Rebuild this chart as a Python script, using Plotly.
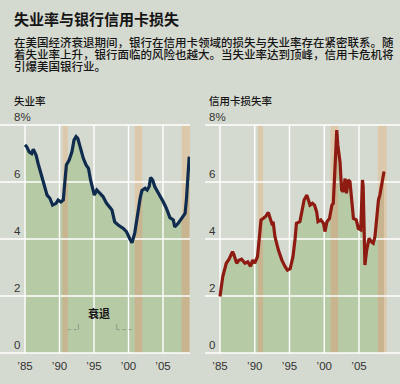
import numpy as np
import plotly.graph_objects as go

# ---------------- data ----------------
unemp_years = [1985.0, 1985.24, 1985.6, 1985.97, 1986.2, 1986.6, 1986.9, 1987.3, 1987.6, 1987.9,
               1988.2, 1988.6, 1989.0, 1989.5, 1989.8, 1990.2, 1990.55, 1990.8, 1991.0, 1991.4,
               1991.8, 1992.1, 1992.4, 1992.65, 1993.0, 1993.45, 1993.85, 1994.2, 1994.5, 1994.8,
               1995.05, 1995.4, 1995.8, 1996.3, 1996.8, 1997.6, 1998.0, 1998.5, 1999.25, 1999.7,
               2000.2, 2000.5, 2000.9, 2001.4, 2001.7, 2001.95, 2002.4, 2002.7, 2003.0, 2003.2,
               2003.5, 2003.8, 2004.1, 2004.6, 2005.05, 2005.5, 2006.0, 2006.5, 2006.7, 2007.2,
               2007.7, 2008.2, 2008.4, 2008.8]
unemp_rate = [7.3, 7.24, 7.06, 7.0, 7.15, 6.95, 6.65, 6.3, 6.0, 5.78,
              5.54, 5.43, 5.19, 5.25, 5.37, 5.3, 5.37, 6.07, 6.6, 6.77,
              7.06, 7.47, 7.59, 7.53, 7.18, 6.83, 6.6, 6.48, 6.07, 5.72,
              5.54, 5.72, 5.6, 5.49, 5.26, 5.02, 4.6, 4.49, 4.37, 4.26,
              4.0, 3.87, 4.2, 5.1, 5.45, 5.7, 5.78, 5.72, 5.84, 6.16,
              6.07, 5.84, 5.72, 5.49, 5.3, 5.07, 4.75, 4.67, 4.42, 4.55,
              4.72, 4.9, 5.4, 6.89]

card_years = [1985.0, 1985.4, 1985.9, 1986.3, 1986.8, 1987.0, 1987.4, 1987.7, 1988.1, 1988.6,
              1989.0, 1989.4, 1989.7, 1990.0, 1990.4, 1990.65, 1990.9, 1991.2, 1991.6, 1991.95,
              1992.2, 1992.45, 1992.65, 1992.9, 1993.4, 1993.9, 1994.35, 1994.7, 1995.1, 1995.5,
              1995.8, 1996.0, 1996.5, 1996.7, 1997.1, 1997.5, 1997.7, 1997.95, 1998.3, 1998.6,
              1998.9, 1999.1, 1999.5, 1999.9, 2000.1, 2000.4, 2000.75, 2001.1, 2001.3, 2001.55,
              2001.8, 2001.95, 2002.27, 2002.5, 2002.75, 2003.0, 2003.2, 2003.45, 2003.7, 2003.95,
              2004.2, 2004.6, 2004.9, 2005.25, 2005.5, 2005.6, 2005.7, 2005.85, 2006.1, 2006.45,
              2006.8, 2007.05, 2007.3, 2007.5, 2007.8, 2008.0, 2008.25, 2008.4, 2008.6]
card_loss = [1.98, 2.68, 3.15, 3.29, 3.56, 3.45, 3.15, 3.25, 3.29, 3.15,
             3.2, 3.04, 3.26, 3.15, 3.38, 4.02, 4.67, 4.72, 4.8, 4.93,
             4.72, 4.55, 4.6, 4.09, 3.61, 3.26, 3.04, 2.91, 2.96, 3.38,
             4.0, 4.55, 4.61, 4.9, 5.37, 5.54, 5.37, 5.19, 5.25, 5.19,
             4.96, 4.61, 4.67, 4.55, 4.26, 4.61, 4.72, 5.19, 5.25, 6.3,
             7.82, 7.3, 6.7, 5.72, 5.66, 6.12, 5.6, 6.07, 6.01, 5.37,
             4.72, 4.67, 4.37, 4.32, 6.07, 5.84, 3.85, 3.09, 3.61, 4.02,
             3.9, 3.85, 4.09, 4.67, 5.37, 5.54, 5.84, 6.12, 6.37]

recessions = [(1990.45, 1991.2), (2000.9, 2002.0), (2007.7, 2009.0)]

y_ticks = [0, 2, 4, 6, 8]
y_tick_labels = ["0", "2", "4", "6", "8%"]
x_ticks = [1985, 1990, 1995, 2000, 2005]
x_tick_labels = ["’85", "’90", "’95", "’00", "’05"]

title = "失业率与银行信用卡损失"
intro_lines = ["在美国经济衰退期间，银行在信用卡领域的损失与失业率存在紧密联系。随",
               "着失业率上升，银行面临的风险也越大。当失业率达到顶峰，信用卡危机将",
               "引爆美国银行业。"]
left_label = "失业率"
right_label = "信用卡损失率"
recession_label = "衰退"

# ---------------- styling ----------------
W, H = 400, 384
BG = "#d5dad0"
GREEN = "#b7caa6"
TAN_DARK = "#c8b48f"
TAN_LIGHT = "#dcc9ac"
GRID = "#ffffff"
NAVY = "#0f2b4d"
RED = "#8e1b12"
TXT = "#151515"
NUM = "#333333"
CJK = "Noto Sans CJK SC"
LAT = "Liberation Sans, Arial, sans-serif"

PX_TOP, PX_BOT = 125.0, 353.0          # pixel rows of 8 and 0
ppu = (PX_BOT - PX_TOP) / 8.0
YR = [-0.1, 8.1]
ydom = [1 - (PX_BOT + 0.1 * ppu) / H, 1 - (PX_TOP - 0.1 * ppu) / H]

L_ppy, R_ppy = 6.9, 6.95
L_range = [1985 - 25 / L_ppy, 1985 + 165 / L_ppy]
R_range = [1985 - 15 / R_ppy, 1985 + 180 / R_ppy]
L_dom = [0.0, 190 / W]
R_dom = [205 / W, 1.0]

fig = go.Figure()
shapes = []
annotations = []


def panel(xs, ys, color, xa, ya, xr):
    xs = np.asarray(xs, float)
    ys = np.asarray(ys, float)
    for a, b in recessions:
        shapes.append(dict(type="rect", xref=xa, yref=ya, x0=a, x1=b, y0=0, y1=8,
                           fillcolor=TAN_LIGHT, line_width=0, layer="below"))
    fig.add_trace(go.Scatter(x=xs, y=ys, xaxis=xa, yaxis=ya, mode="lines",
                             line=dict(width=0, color=GREEN), fill="tozeroy",
                             fillcolor=GREEN, hoverinfo="skip", showlegend=False))
    for a, b in recessions:
        b2 = min(b, xs[-1])
        if b2 <= a:
            continue
        inner = (xs > a) & (xs < b2)
        bx = np.concatenate([[a], xs[inner], [b2]])
        by = np.concatenate([[np.interp(a, xs, ys)], ys[inner], [np.interp(b2, xs, ys)]])
        fig.add_trace(go.Scatter(x=bx, y=by, xaxis=xa, yaxis=ya, mode="lines",
                                 line=dict(width=0, color=TAN_DARK), fill="tozeroy",
                                 fillcolor=TAN_DARK, hoverinfo="skip", showlegend=False))
    gx, gy = [], []
    for v in y_ticks:
        gx += [xr[0], xr[1], None]
        gy += [v, v, None]
    for t in x_ticks:
        gx += [t, t, None]
        gy += [0, 8, None]
    fig.add_trace(go.Scatter(x=gx, y=gy, xaxis=xa, yaxis=ya, mode="lines",
                             line=dict(width=1.4, color=GRID), hoverinfo="skip",
                             showlegend=False))
    fig.add_trace(go.Scatter(x=xs, y=ys, xaxis=xa, yaxis=ya, mode="lines",
                             line=dict(width=3.2, color=color), hoverinfo="skip",
                             showlegend=False))


panel(unemp_years, unemp_rate, NAVY, "x", "y", L_range)
panel(card_years, card_loss, RED, "x2", "y2", R_range)

for v, lab in zip(y_ticks, y_tick_labels):
    annotations.append(dict(text=lab, xref="paper", yref="y", x=12 / W, y=v,
                            xanchor="left", yanchor="bottom", yshift=0, showarrow=False,
                            font=dict(family=LAT, size=11.5, color=NUM)))
    annotations.append(dict(text=lab, xref="paper", yref="y2", x=207 / W, y=v,
                            xanchor="left", yanchor="bottom", yshift=0, showarrow=False,
                            font=dict(family=LAT, size=11.5, color=NUM)))

annotations.append(dict(text=title, xref="paper", yref="paper",
                        x=12 / W, y=1 - 18.5 / H, xanchor="left", yanchor="middle",
                        showarrow=False,
                        font=dict(family=CJK, size=15, color=TXT, weight=700)))
for i, line in enumerate(intro_lines):
    annotations.append(dict(text=line, xref="paper", yref="paper",
                            x=12 / W, y=1 - (42 + 12.2 * i) / H, xanchor="left",
                            yanchor="middle", showarrow=False,
                            font=dict(family=CJK, size=11.5, color=TXT, weight=500)))

annotations.append(dict(text=left_label, xref="paper", yref="paper", x=12 / W,
                        y=1 - 100 / H, xanchor="left", yanchor="middle", showarrow=False,
                        font=dict(family=CJK, size=10.5, color=TXT, weight=500)))
annotations.append(dict(text=right_label, xref="paper", yref="paper", x=207 / W,
                        y=1 - 100 / H, xanchor="left", yanchor="middle", showarrow=False,
                        font=dict(family=CJK, size=10.5, color=TXT, weight=500)))

annotations.append(dict(text=recession_label, xref="x", yref="y", x=1995.7, y=1.4,
                        xanchor="center", yanchor="middle", showarrow=False,
                        font=dict(family=CJK, size=11, color=TXT, weight=700)))
BR = "#8f9a88"
shapes += [
    dict(type="line", xref="x", yref="y", x0=1991.2, x1=1992.75, y0=0.82, y1=0.82,
         line=dict(color=BR, width=1, dash="dot")),
    dict(type="line", xref="x", yref="y", x0=1992.75, x1=1992.75, y0=0.82, y1=1.02,
         line=dict(color=BR, width=1)),
    dict(type="line", xref="x", yref="y", x0=1998.3, x1=1998.3, y0=0.82, y1=1.02,
         line=dict(color=BR, width=1)),
    dict(type="line", xref="x", yref="y", x0=1998.3, x1=2000.9, y0=0.82, y1=0.82,
         line=dict(color=BR, width=1, dash="dot")),
]

xaxis_common = dict(showgrid=False, zeroline=False, showline=False, ticks="",
                    tickvals=x_ticks, ticktext=x_tick_labels, tickangle=0,
                    ticklabelstandoff=2,
                    tickfont=dict(family=LAT, size=11.5, color=NUM), fixedrange=True)
yaxis_common = dict(range=YR, showgrid=False, zeroline=False, showline=False,
                    showticklabels=False, ticks="", domain=ydom, fixedrange=True)

fig.update_layout(
    width=W, height=H,
    margin=dict(l=0, r=0, t=0, b=0),
    paper_bgcolor=BG, plot_bgcolor=BG,
    showlegend=False,
    xaxis=dict(domain=L_dom, range=L_range, anchor="y", **xaxis_common),
    yaxis=dict(anchor="x", **yaxis_common),
    xaxis2=dict(domain=R_dom, range=R_range, anchor="y2", **xaxis_common),
    yaxis2=dict(anchor="x2", **yaxis_common),
    shapes=shapes,
    annotations=annotations,
)

fig.write_html("out.html", config={"displayModeBar": False},
               post_script="document.body.style.margin='0';document.body.style.background='"
               + BG + "';document.body.style.overflow='hidden';")
